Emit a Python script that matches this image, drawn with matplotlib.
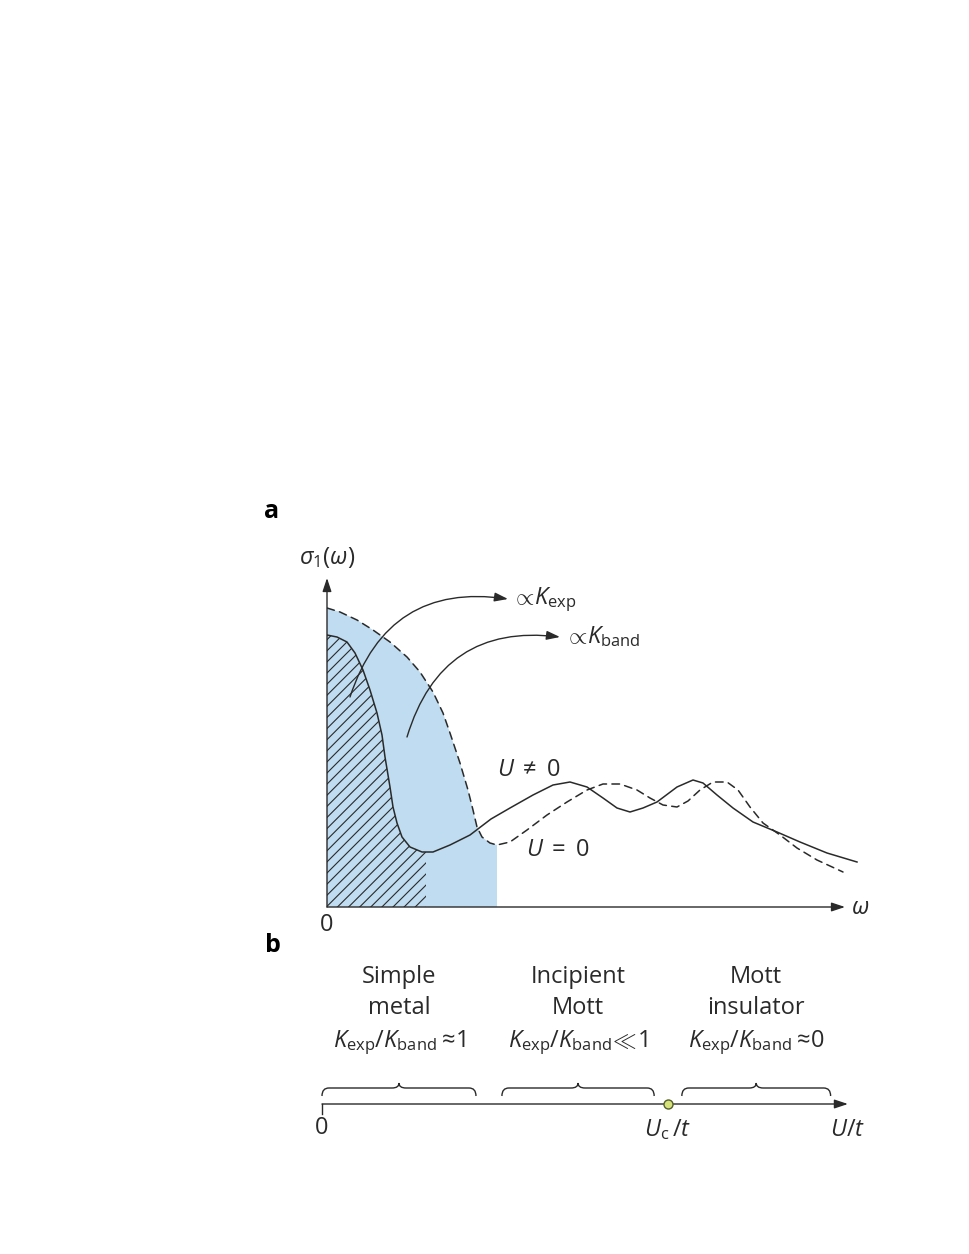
import matplotlib
matplotlib.use('Agg')
import matplotlib.pyplot as plt
import numpy as np
from matplotlib.path import Path
from matplotlib.patches import PathPatch, Rectangle

plt.rcParams['font.family'] = ['Open Sans', 'DejaVu Sans']
plt.rcParams['mathtext.fontset'] = 'custom'
plt.rcParams['mathtext.rm'] = 'Open Sans'
plt.rcParams['mathtext.it'] = 'Open Sans:italic'
plt.rcParams['mathtext.bf'] = 'Open Sans:bold'
plt.rcParams['hatch.linewidth'] = 0.8

# panel a: sketch of sigma_1(omega), arbitrary units
omega_u0 = [0, 13, 30, 46, 63, 80, 93, 106, 116, 123, 133, 141, 146, 150, 155, 163,
            170, 183, 200, 220, 240, 260, 276, 293, 310, 323, 336, 350, 361, 373,
            386, 400, 411, 423, 436, 453, 470, 490, 516]
sigma_u0 = [299, 295, 287, 277, 265, 250, 235, 215, 194, 174, 144, 117, 97, 80, 70, 64,
            62, 65, 77, 92, 105, 117, 123, 123, 117, 109, 102, 100, 106, 117,
            125, 125, 117, 100, 84, 72, 59, 47, 35]
omega_u = [0, 10, 20, 28, 36, 43, 50, 55, 58, 63, 66, 70, 75, 83, 95, 106, 123, 143,
           164, 183, 206, 226, 243, 260, 276, 290, 303, 316, 330, 350, 366, 376, 390,
           406, 426, 450, 473, 500, 530]
sigma_u = [272, 270, 265, 254, 237, 217, 194, 172, 150, 120, 100, 84, 70, 60, 55, 55,
           62, 72, 88, 99, 112, 122, 125, 120, 109, 99, 95, 99, 105, 120, 127, 124,
           112, 99, 85, 75, 65, 54, 45]
band_edge = 170   # end of shaded area, K_band
exp_edge = 99     # end of hatched area, K_exp

# panel b: U/t axis (in units of Uc/t)
regime_title = ['Simple', 'Incipient', 'Mott']
regime_sub = ['metal', 'Mott', 'insulator']
regime_ratio = [r'$K_{\mathrm{exp}}/K_{\mathrm{band}}\approx\!1$',
                r'$K_{\mathrm{exp}}/K_{\mathrm{band}}\!\ll\!1$',
                r'$K_{\mathrm{exp}}/K_{\mathrm{band}}\approx\!0$']
brace_start = [0.00, 0.52, 1.04]
brace_end = [0.445, 0.96, 1.47]
u_c = 1.0
u_max = 1.52

ink = '#2a2a2a'
blue = '#bfdcf1'
fs = 17

fig = plt.figure(figsize=(9.69, 12.54), dpi=100)

# ---------- panel a ----------
ax = fig.add_axes([327/969, (1254-907)/1254, 548/969, 332/1254])
ax.set_xlim(0, 548)
ax.set_ylim(0, 332)
ax.axis('off')

blue_fill = ax.fill_between(omega_u0, 0, sigma_u0, facecolor=blue, edgecolor='none', zorder=1)
blue_fill.set_clip_path(Rectangle((0, 0), band_edge, 400, transform=ax.transData))
hatch_fill = ax.fill_between(omega_u, 0, sigma_u, facecolor='none', edgecolor=ink,
                             hatch='///', linewidth=0, zorder=2)
hatch_fill.set_clip_path(Rectangle((0, 0), exp_edge, 400, transform=ax.transData))

ax.plot(omega_u0, sigma_u0, color=ink, lw=1.1, ls=(0, (5, 3.5)), zorder=3,
        dash_joinstyle='round', dash_capstyle='round')
ax.plot(omega_u, sigma_u, color=ink, lw=1.1, zorder=3, solid_joinstyle='round')

arr = dict(arrowstyle='-|>,head_length=0.9,head_width=0.3', color=ink, lw=1.0,
           mutation_scale=9, shrinkA=0, shrinkB=0)
ax.annotate('', xy=(518, 0), xytext=(0, 0), arrowprops=arr, annotation_clip=False)
ax.annotate('', xy=(0, 329), xytext=(0, 0), arrowprops=arr, annotation_clip=False)

# curved pointers to the spectral weights
ax.annotate('', xy=(181, 308), xytext=(23, 210),
            arrowprops=dict(arr, connectionstyle='arc3,rad=-0.42'), zorder=4)
ax.annotate('', xy=(233, 270), xytext=(80, 170),
            arrowprops=dict(arr, connectionstyle='arc3,rad=-0.42'), zorder=4)
ax.text(184, 307, r'$\propto\!K_{\mathrm{exp}}$', fontsize=fs, color=ink,
        ha='left', va='center')
ax.text(237, 270, r'$\propto\!K_{\mathrm{band}}$', fontsize=fs, color=ink,
        ha='left', va='center')

ax.text(202, 137, r'$U\;\neq\;0$', fontsize=fs, color=ink, ha='center', va='center')
ax.text(231, 57, r'$U\;=\;0$', fontsize=fs, color=ink, ha='center', va='center')
ax.text(0, 350, r'$\sigma_1(\omega)$', fontsize=fs, color=ink, ha='center', va='center')
ax.text(0, -18, '0', fontsize=fs, color=ink, ha='center', va='center')
ax.text(524, -1, r'$\omega$', fontsize=fs, color=ink, ha='left', va='center')

fig.text(272/969, 1 - 511/1254, 'a', fontsize=18, fontweight='bold', ha='center', va='center')
fig.text(273/969, 1 - 946/1254, 'b', fontsize=18, fontweight='bold', ha='center', va='center')

# ---------- panel b ----------
bx = fig.add_axes([300/969, (1254-1150)/1254, 580/969, 200/1254])
bx.set_xlim((300-322)/346, (880-322)/346)
bx.set_ylim(-46, 154)
bx.axis('off')

bx.annotate('', xy=(u_max, 0), xytext=(0, 0), arrowprops=arr, annotation_clip=False)
bx.plot([0, 0], [0, -10], color=ink, lw=1.0)
bx.plot([u_c], [0], 'o', ms=6.5, mfc='#d6e37a', mec='#55602a', mew=1.0, zorder=5)


def brace(a, x0, x1, y_end=8, y_flat=16, y_tip=21, h=0.02):
    xm = 0.5 * (x0 + x1)
    verts = [(x0, y_end), (x0, y_flat), (x0 + h, y_flat),
             (xm - h, y_flat), (xm, y_flat), (xm, y_tip),
             (xm, y_flat), (xm + h, y_flat),
             (x1 - h, y_flat), (x1, y_flat), (x1, y_end)]
    codes = [Path.MOVETO, Path.CURVE3, Path.CURVE3,
             Path.LINETO, Path.CURVE3, Path.CURVE3,
             Path.CURVE3, Path.CURVE3,
             Path.LINETO, Path.CURVE3, Path.CURVE3]
    a.add_patch(PathPatch(Path(verts, codes), facecolor='none', edgecolor=ink, lw=1.0))


for i in range(3):
    brace(bx, brace_start[i], brace_end[i])
    xc = 0.5 * (brace_start[i] + brace_end[i])
    bx.text(xc, 127, regime_title[i], fontsize=fs, color=ink, ha='center', va='center')
    bx.text(xc, 96, regime_sub[i], fontsize=fs, color=ink, ha='center', va='center')
    bx.text(xc, 61, regime_ratio[i], fontsize=fs, color=ink, ha='center', va='center')

bx.text(0, -24, '0', fontsize=fs, color=ink, ha='center', va='center')
bx.text(u_c, -26, r'$U_{\mathrm{c}}\,/t$', fontsize=fs, color=ink, ha='center', va='center')
bx.text(u_max, -26, r'$U/t$', fontsize=fs, color=ink, ha='center', va='center')

fig.savefig('out.png', dpi=100)
